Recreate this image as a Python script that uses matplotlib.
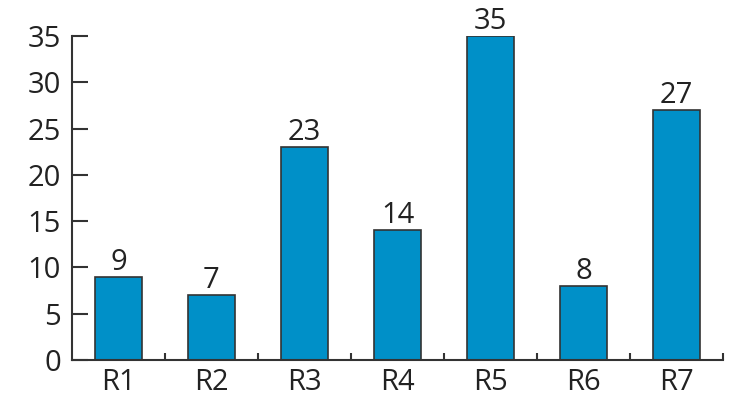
import matplotlib.pyplot as plt
import numpy as np

categories = ['R1', 'R2', 'R3', 'R4', 'R5', 'R6', 'R7']
values = [9, 7, 23, 14, 35, 8, 27]
y_ticks = [0, 5, 10, 15, 20, 25, 30, 35]

plt.rcParams['font.family'] = ['Open Sans', 'DejaVu Sans']

fig = plt.figure(figsize=(7.31, 4.05), dpi=100)
ax = fig.add_axes([0.0985, 0.111, 0.8905, 0.8])

x = np.arange(len(categories))
bars = ax.bar(x, values, width=0.5, color='#0090c8', edgecolor='#333333', linewidth=1.2)
ax.bar_label(bars, labels=[str(v) for v in values], padding=0, fontsize=21, color='#222222')

ax.set_xlim(-0.5, len(categories) - 0.5)
ax.set_ylim(0, 35)
ax.set_yticks(y_ticks)
ax.set_xticks(x)
ax.set_xticklabels(categories)
ax.set_xticks(np.arange(0.5, len(categories)), minor=True)

for s in ['top', 'right']:
    ax.spines[s].set_visible(False)
for s in ['left', 'bottom']:
    ax.spines[s].set_linewidth(1.5)
    ax.spines[s].set_color('#333333')

ax.tick_params(axis='y', direction='in', length=11.5, width=1.5, color='#333333',
               labelsize=21, pad=8, labelcolor='#222222')
ax.tick_params(axis='x', which='major', length=0, labelsize=21, pad=6, labelcolor='#222222')
ax.tick_params(axis='x', which='minor', direction='in', length=5, width=1.5, color='#333333')

fig.savefig('out.png', dpi=100)
